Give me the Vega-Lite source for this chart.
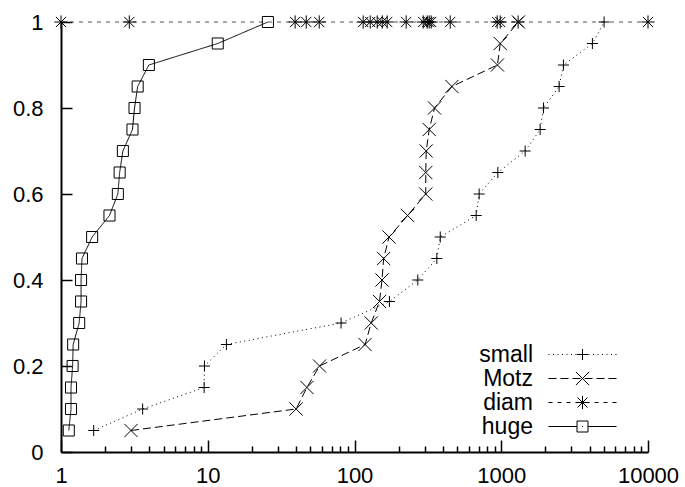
{
  "$schema": "https://vega.github.io/schema/vega-lite/v6.json",
  "width": 587,
  "height": 430,
  "autosize": {"type": "none"},
  "padding": {"left": 61, "top": 22, "right": 37, "bottom": 35},
  "background": "white",
  "config": {"view": {"stroke": null}, "font": "Liberation Sans"},
  "data": {"values": [
    {"series": "small", "x": 1.67, "y": 0.05},
    {"series": "small", "x": 3.6, "y": 0.1},
    {"series": "small", "x": 9.45, "y": 0.15},
    {"series": "small", "x": 9.5, "y": 0.2},
    {"series": "small", "x": 13.4, "y": 0.25},
    {"series": "small", "x": 81, "y": 0.3},
    {"series": "small", "x": 173, "y": 0.35},
    {"series": "small", "x": 270, "y": 0.4},
    {"series": "small", "x": 364, "y": 0.45},
    {"series": "small", "x": 384, "y": 0.5},
    {"series": "small", "x": 675, "y": 0.55},
    {"series": "small", "x": 707, "y": 0.6},
    {"series": "small", "x": 948, "y": 0.65},
    {"series": "small", "x": 1455, "y": 0.7},
    {"series": "small", "x": 1841, "y": 0.75},
    {"series": "small", "x": 1940, "y": 0.8},
    {"series": "small", "x": 2480, "y": 0.85},
    {"series": "small", "x": 2654, "y": 0.9},
    {"series": "small", "x": 4180, "y": 0.95},
    {"series": "small", "x": 5020, "y": 1.0},
    {"series": "Motz", "x": 3.0, "y": 0.05},
    {"series": "Motz", "x": 40, "y": 0.1},
    {"series": "Motz", "x": 47.4, "y": 0.15},
    {"series": "Motz", "x": 57.8, "y": 0.2},
    {"series": "Motz", "x": 118, "y": 0.25},
    {"series": "Motz", "x": 130, "y": 0.3},
    {"series": "Motz", "x": 148, "y": 0.35},
    {"series": "Motz", "x": 154, "y": 0.4},
    {"series": "Motz", "x": 158, "y": 0.45},
    {"series": "Motz", "x": 172, "y": 0.5},
    {"series": "Motz", "x": 230, "y": 0.55},
    {"series": "Motz", "x": 306, "y": 0.6},
    {"series": "Motz", "x": 306, "y": 0.65},
    {"series": "Motz", "x": 308, "y": 0.7},
    {"series": "Motz", "x": 323, "y": 0.75},
    {"series": "Motz", "x": 351, "y": 0.8},
    {"series": "Motz", "x": 461, "y": 0.85},
    {"series": "Motz", "x": 942, "y": 0.9},
    {"series": "Motz", "x": 984, "y": 0.95},
    {"series": "Motz", "x": 1310, "y": 1.0},
    {"series": "diam", "x": 1, "y": 1.0},
    {"series": "diam", "x": 2.92, "y": 1.0},
    {"series": "diam", "x": 39.4, "y": 1.0},
    {"series": "diam", "x": 46.9, "y": 1.0},
    {"series": "diam", "x": 57.5, "y": 1.0},
    {"series": "diam", "x": 114.6, "y": 1.0},
    {"series": "diam", "x": 128, "y": 1.0},
    {"series": "diam", "x": 142.8, "y": 1.0},
    {"series": "diam", "x": 154.5, "y": 1.0},
    {"series": "diam", "x": 167, "y": 1.0},
    {"series": "diam", "x": 225, "y": 1.0},
    {"series": "diam", "x": 294, "y": 1.0},
    {"series": "diam", "x": 313, "y": 1.0},
    {"series": "diam", "x": 323, "y": 1.0},
    {"series": "diam", "x": 333, "y": 1.0},
    {"series": "diam", "x": 449, "y": 1.0},
    {"series": "diam", "x": 938, "y": 1.0},
    {"series": "diam", "x": 984, "y": 1.0},
    {"series": "diam", "x": 1303, "y": 1.0},
    {"series": "diam", "x": 10000, "y": 1.0},
    {"series": "huge", "x": 1.13, "y": 0.05},
    {"series": "huge", "x": 1.17, "y": 0.1},
    {"series": "huge", "x": 1.17, "y": 0.15},
    {"series": "huge", "x": 1.2, "y": 0.2},
    {"series": "huge", "x": 1.21, "y": 0.25},
    {"series": "huge", "x": 1.33, "y": 0.3},
    {"series": "huge", "x": 1.37, "y": 0.35},
    {"series": "huge", "x": 1.37, "y": 0.4},
    {"series": "huge", "x": 1.39, "y": 0.45},
    {"series": "huge", "x": 1.63, "y": 0.5},
    {"series": "huge", "x": 2.14, "y": 0.55},
    {"series": "huge", "x": 2.44, "y": 0.6},
    {"series": "huge", "x": 2.51, "y": 0.65},
    {"series": "huge", "x": 2.64, "y": 0.7},
    {"series": "huge", "x": 3.07, "y": 0.75},
    {"series": "huge", "x": 3.17, "y": 0.8},
    {"series": "huge", "x": 3.33, "y": 0.85},
    {"series": "huge", "x": 3.97, "y": 0.9},
    {"series": "huge", "x": 11.7, "y": 0.95},
    {"series": "huge", "x": 25.7, "y": 1.0}
  ]},
  "encoding": {
    "x": {"field": "x", "type": "quantitative",
      "scale": {"type": "log", "domain": [1, 10000], "nice": false},
      "axis": {
        "orient": "bottom",
        "values": [1,2,3,4,5,6,7,8,9,10,20,30,40,50,60,70,80,90,100,200,300,400,500,600,700,800,900,1000,2000,3000,4000,5000,6000,7000,8000,9000,10000],
        "format": "d",
        "labelExpr": "indexof(['1','10','100','1000','10000'], datum.label) >= 0 ? datum.label : ''",
        "tickSize": {"condition": {"test": "indexof([1,10,100,1000,10000], datum.value) >= 0", "value": -12}, "value": -6},
        "labelPadding": 25,
        "labelFlush": false, "labelOverlap": false, "labelBound": false,
        "grid": false, "title": null,
        "domainColor": "black", "domainWidth": 2,
        "tickColor": "black", "tickWidth": 1.5,
        "labelFont": "Liberation Sans", "labelFontSize": 22, "labelColor": "black"
      }},
    "y": {"field": "y", "type": "quantitative",
      "scale": {"domain": [0, 1], "nice": false},
      "axis": {
        "values": [0, 0.2, 0.4, 0.6, 0.8, 1],
        "format": "~g",
        "tickSize": -11,
        "labelPadding": 29,
        "labelFlush": false, "labelOverlap": false, "labelBound": false,
        "grid": false, "title": null,
        "domainColor": "black", "domainWidth": 2,
        "tickColor": "black", "tickWidth": 1.5,
        "labelFont": "Liberation Sans", "labelFontSize": 22, "labelColor": "black"
      }}
  },
  "layer": [
    {
      "mark": {"type": "line", "strokeWidth": 1},
      "encoding": {
        "strokeDash": {"field": "series", "type": "nominal",
          "scale": {"domain": ["small", "Motz", "diam", "huge"], "range": [[1, 3.5], [8, 4], [4, 5], [1, 0]]},
          "legend": null},
        "color": {"field": "series", "type": "nominal",
          "scale": {"domain": ["small", "Motz", "diam", "huge"], "range": ["#000000", "#000000", "#555555", "#000000"]},
          "legend": null},
        "order": [{"field": "y", "type": "quantitative"}, {"field": "x", "type": "quantitative"}]
      }
    },
    {
      "mark": {"type": "point", "filled": false, "color": "black", "strokeWidth": 1, "size": 144, "opacity": 1},
      "encoding": {
        "shape": {"field": "series", "type": "nominal",
          "scale": {"domain": ["small", "Motz", "diam", "huge"],
            "range": [
              "M-0.92,0H0.92M0,-0.92V0.92",
              "M-1.1,-1.1L1.1,1.1M-1.1,1.1L1.1,-1.1",
              "M-1.1,0H1.1M0,-1.1V1.1M-0.85,-0.85L0.85,0.85M-0.85,0.85L0.85,-0.85",
              "M-0.92,-0.92H0.92V0.92H-0.92Z"
            ]},
          "legend": null}
      }
    },
    {
      "transform": [{"filter": "datum.x < 0"}],
      "mark": {"type": "point", "filled": false, "color": "black", "strokeWidth": 1, "opacity": 1},
      "encoding": {
        "shape": {"field": "series", "type": "nominal",
          "scale": {"domain": ["small", "Motz", "diam", "huge"],
            "range": [
              "M-120,0M50,0M-34,0h1M-29.5,0h1M-25,0h1M-20.5,0h1M-16,0h1M-11.5,0h1M-7,0h1M6,0h1M10.5,0h1M15,0h1M19.5,0h1M24,0h1M28.5,0h1M33,0h1M-5.5,0H5.5M0,-5.5V5.5",
              "M-120,0M50,0M-34,0H-26M-22,0H-14M-10,0H-2M2,0H10M14,0H22M26,0H34M-6.6,-6.6L6.6,6.6M-6.6,6.6L6.6,-6.6",
              "M-120,0M50,0M-34,0H-30M-25,0H-21M-16,0H-12M-7,0H-3M3,0H7M12,0H16M21,0H25M30,0H34M-6.6,0H6.6M0,-6.6V6.6M-5,-5L5,5M-5,5L5,-5",
              "M-120,0M50,0M-34,0H-5.5M5.5,0H34M-5.5,-5.5H5.5V5.5H-5.5ZM-0.5,0H0.5"
            ]},
          "legend": {
            "title": null,
            "orient": "bottom-right",
            "direction": "vertical",
            "offset": 13,
            "padding": 0,
            "symbolSize": 4,
            "symbolStrokeWidth": 1,
            "symbolStrokeColor": "black",
            "symbolFillColor": "transparent",
            "symbolOffset": 0,
            "labelAlign": "right",
            "labelOffset": -61,
            "labelFont": "Liberation Sans",
            "labelFontSize": 23,
            "labelColor": "black",
            "rowPadding": -0.5,
            "labelLimit": 0
          }}
      }
    }
  ],
  "resolve": {"scale": {"shape": "independent"}}
}
